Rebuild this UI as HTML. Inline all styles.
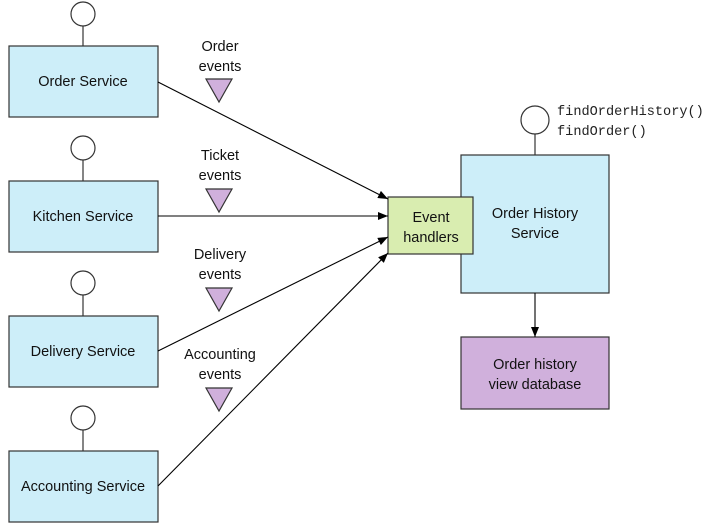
<!DOCTYPE html>
<html><head><style>body{margin:0;background:#fff}svg{display:block}</style></head><body>
<svg width="712" height="530" xmlns="http://www.w3.org/2000/svg" font-family="Liberation Sans, sans-serif" font-size="14.5">
<defs><marker id="a" markerWidth="10" markerHeight="8" refX="10" refY="4" orient="auto" markerUnits="userSpaceOnUse"><path d="M0,0 L10,4 L0,8 Z" fill="#000"/></marker></defs>
<g stroke="#333" stroke-width="1.2">
<line x1="83" y1="26" x2="83" y2="46"/><circle cx="83" cy="14" r="12" fill="#fff"/>
<line x1="83" y1="160" x2="83" y2="181"/><circle cx="83" cy="148" r="12" fill="#fff"/>
<line x1="83" y1="295" x2="83" y2="316"/><circle cx="83" cy="283" r="12" fill="#fff"/>
<line x1="83" y1="430" x2="83" y2="451"/><circle cx="83" cy="418" r="12" fill="#fff"/>
<rect x="9" y="46" width="149" height="71" fill="#cdeef9"/>
<rect x="9" y="181" width="149" height="71" fill="#cdeef9"/>
<rect x="9" y="316" width="149" height="71" fill="#cdeef9"/>
<rect x="9" y="451" width="149" height="71" fill="#cdeef9"/>
<line x1="535" y1="134" x2="535" y2="155"/><circle cx="535" cy="120" r="14" fill="#fff"/>
<rect x="461" y="155" width="148" height="138" fill="#cdeef9"/>
<rect x="388" y="197" width="85" height="57" fill="#d9edb0"/>
<rect x="461" y="337" width="148" height="72" fill="#d0b0dc"/>
<path d="M206,79 L232,79 L219,102 Z" fill="#d0b0dc"/>
<path d="M206,189 L232,189 L219,212 Z" fill="#d0b0dc"/>
<path d="M206,288 L232,288 L219,311 Z" fill="#d0b0dc"/>
<path d="M206,388 L232,388 L219,411 Z" fill="#d0b0dc"/>
</g>
<g stroke="#000" stroke-width="1.1" marker-end="url(#a)">
<line x1="158" y1="82" x2="388" y2="199"/>
<line x1="158" y1="216" x2="388" y2="216"/>
<line x1="158" y1="351" x2="388" y2="237"/>
<line x1="158" y1="486" x2="388" y2="253"/>
<line x1="535" y1="293" x2="535" y2="337"/>
</g>
<g fill="#111" text-anchor="middle">
<text x="83" y="86">Order Service</text>
<text x="83" y="221">Kitchen Service</text>
<text x="83" y="356">Delivery Service</text>
<text x="83" y="491">Accounting Service</text>
<text x="220" y="51">Order</text><text x="220" y="71">events</text>
<text x="220" y="160">Ticket</text><text x="220" y="180">events</text>
<text x="220" y="259">Delivery</text><text x="220" y="279">events</text>
<text x="220" y="359">Accounting</text><text x="220" y="379">events</text>
<text x="431" y="222">Event</text><text x="431" y="242">handlers</text>
<text x="535" y="218">Order History</text><text x="535" y="238">Service</text>
<text x="535" y="369">Order history</text><text x="535" y="389">view database</text>
</g>
<g font-family="Liberation Mono, monospace" font-size="13.6" fill="#222">
<text x="557" y="115">findOrderHistory()</text>
<text x="557" y="135">findOrder()</text>
</g>
</svg>
</body></html>
